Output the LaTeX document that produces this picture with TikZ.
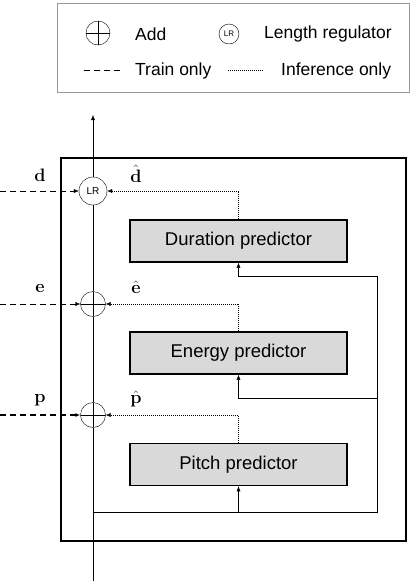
\RequirePackage{fix-cm}
\documentclass[tikz,border=0pt]{standalone}
\usepackage{amsmath}
\usepackage[no-math]{fontspec}
\setmainfont{Liberation Sans}
\usetikzlibrary{positioning,arrows.meta}

\tikzset{
  predictor/.style = {draw, line width = 1.6pt, fill = gray!30, minimum width = 217pt,
                      minimum height = 42pt, font = \fontsize{18.5}{20}\selectfont},
  addop/.style = {draw, circle, minimum size = 25pt, inner sep = 0pt,
                  path picture = {\draw (path picture bounding box.north) -- (path picture bounding box.south)
                                        (path picture bounding box.west) -- (path picture bounding box.east);}},
  lrop/.style = {draw, circle, minimum size = 28pt, inner sep = 0pt, font = \fontsize{10}{10}\selectfont},
  trainline/.style = {dash pattern = on 6pt off 4pt},
  inferline/.style = {dash pattern = on 1pt off 1pt},
  arr/.style = {-{Latex[length = 5pt, width = 4pt]}},
  sym/.style = {inner sep = 0pt, font = \fontsize{18}{18}\selectfont},
  legtext/.style = {anchor = west, inner sep = 0pt, font = \fontsize{17.5}{19}\selectfont}
}

\begin{document}
\begin{tikzpicture}[x = 1pt, y = -1pt]
  \useasboundingbox (0,0) rectangle (412,582);

  % legend
  \node [draw = gray!80, minimum width = 352pt, minimum height = 89pt] (legend) at (233,47.5) {};
  \node [addop, minimum size = 24pt] (legadd) at (98,33) {};
  \node [legtext] (addtxt) at (135,34) {Add};
  \node [lrop, minimum size = 20pt, font = \fontsize{8}{8}\selectfont] (leglr) at (229,34) {LR};
  \node [legtext] (lrtxt) at (264,34) {Length regulator};
  \coordinate (trainA) at (84,70);
  \coordinate (trainB) at (120,70);
  \draw [trainline] (trainA) -- (trainB);
  \node [legtext] (traintxt) at (135,71) {Train only};
  \coordinate (inferA) at (228,70);
  \coordinate (inferB) at (264,70);
  \draw [inferline, line width = 0.4pt] (inferA) -- (inferB);
  \node [legtext] (infertxt) at (281,71) {Inference only};

  % variance adaptor frame
  \node [draw, line width = 1.6pt, minimum width = 345pt, minimum height = 383pt] (frame) at (233.5,349.5) {};

  % operators on the main line
  \node [lrop] (lr) at (93,191) {LR};
  \node [addop] (adde) at (93,304) {};
  \node [addop] (addp) at (93,415) {};

  % predictors
  \node [predictor] (dur) at (238.5,241) {Duration predictor};
  \node [predictor] (ene) at (238.5,353) {Energy predictor};
  \node [predictor] (pit) at (238.5,464.5) {Pitch predictor};

  % main line
  \coordinate (bot) at (93,581);
  \coordinate (top) at (93,115);
  \coordinate (fork) at (93,512);
  \coordinate (rfork) at (377,512);
  \coordinate (dfeed) at (377,276);
  \coordinate (efeed) at (377,398);
  \draw (bot) -- (addp.south);
  \draw (addp.north) -- (adde.south);
  \draw (adde.north) -- (lr.south);
  \draw [arr] (lr.north) -- (top);

  % feeds into predictors
  \draw (fork) -- (rfork) -- (dfeed);
  \draw [arr] (dfeed) -| (dur.south);
  \draw [arr] (efeed) -| (ene.south);
  \draw [arr] (pit.south |- fork) -- (pit.south);

  % targets (train only)
  \coordinate (din) at (0,191);
  \coordinate (ein) at (0,304);
  \coordinate (pin) at (0,415);
  \draw [trainline, arr] (din) -- (lr.west);
  \draw [trainline, arr] (ein) -- (adde.west);
  \draw [trainline, arr, line width = 1.1pt] (pin) -- (addp.west);
  \node [sym] (dlab) at (40,175) {$\mathbf{d}$};
  \node [sym] (elab) at (40,288) {$\mathbf{e}$};
  \node [sym] (plab) at (40,400) {$\mathbf{p}$};

  % predictions (inference only)
  \draw [inferline, arr] (dur.north) |- (lr.east);
  \draw [inferline, arr] (ene.north) |- (adde.east);
  \draw [inferline, arr] (pit.north) |- (addp.east);
  \node [sym] (dhat) at (136,174) {$\hat{\mathbf{d}}$};
  \node [sym] (ehat) at (136,287) {$\hat{\mathbf{e}}$};
  \node [sym] (phat) at (136,399) {$\hat{\mathbf{p}}$};
\end{tikzpicture}
\end{document}
